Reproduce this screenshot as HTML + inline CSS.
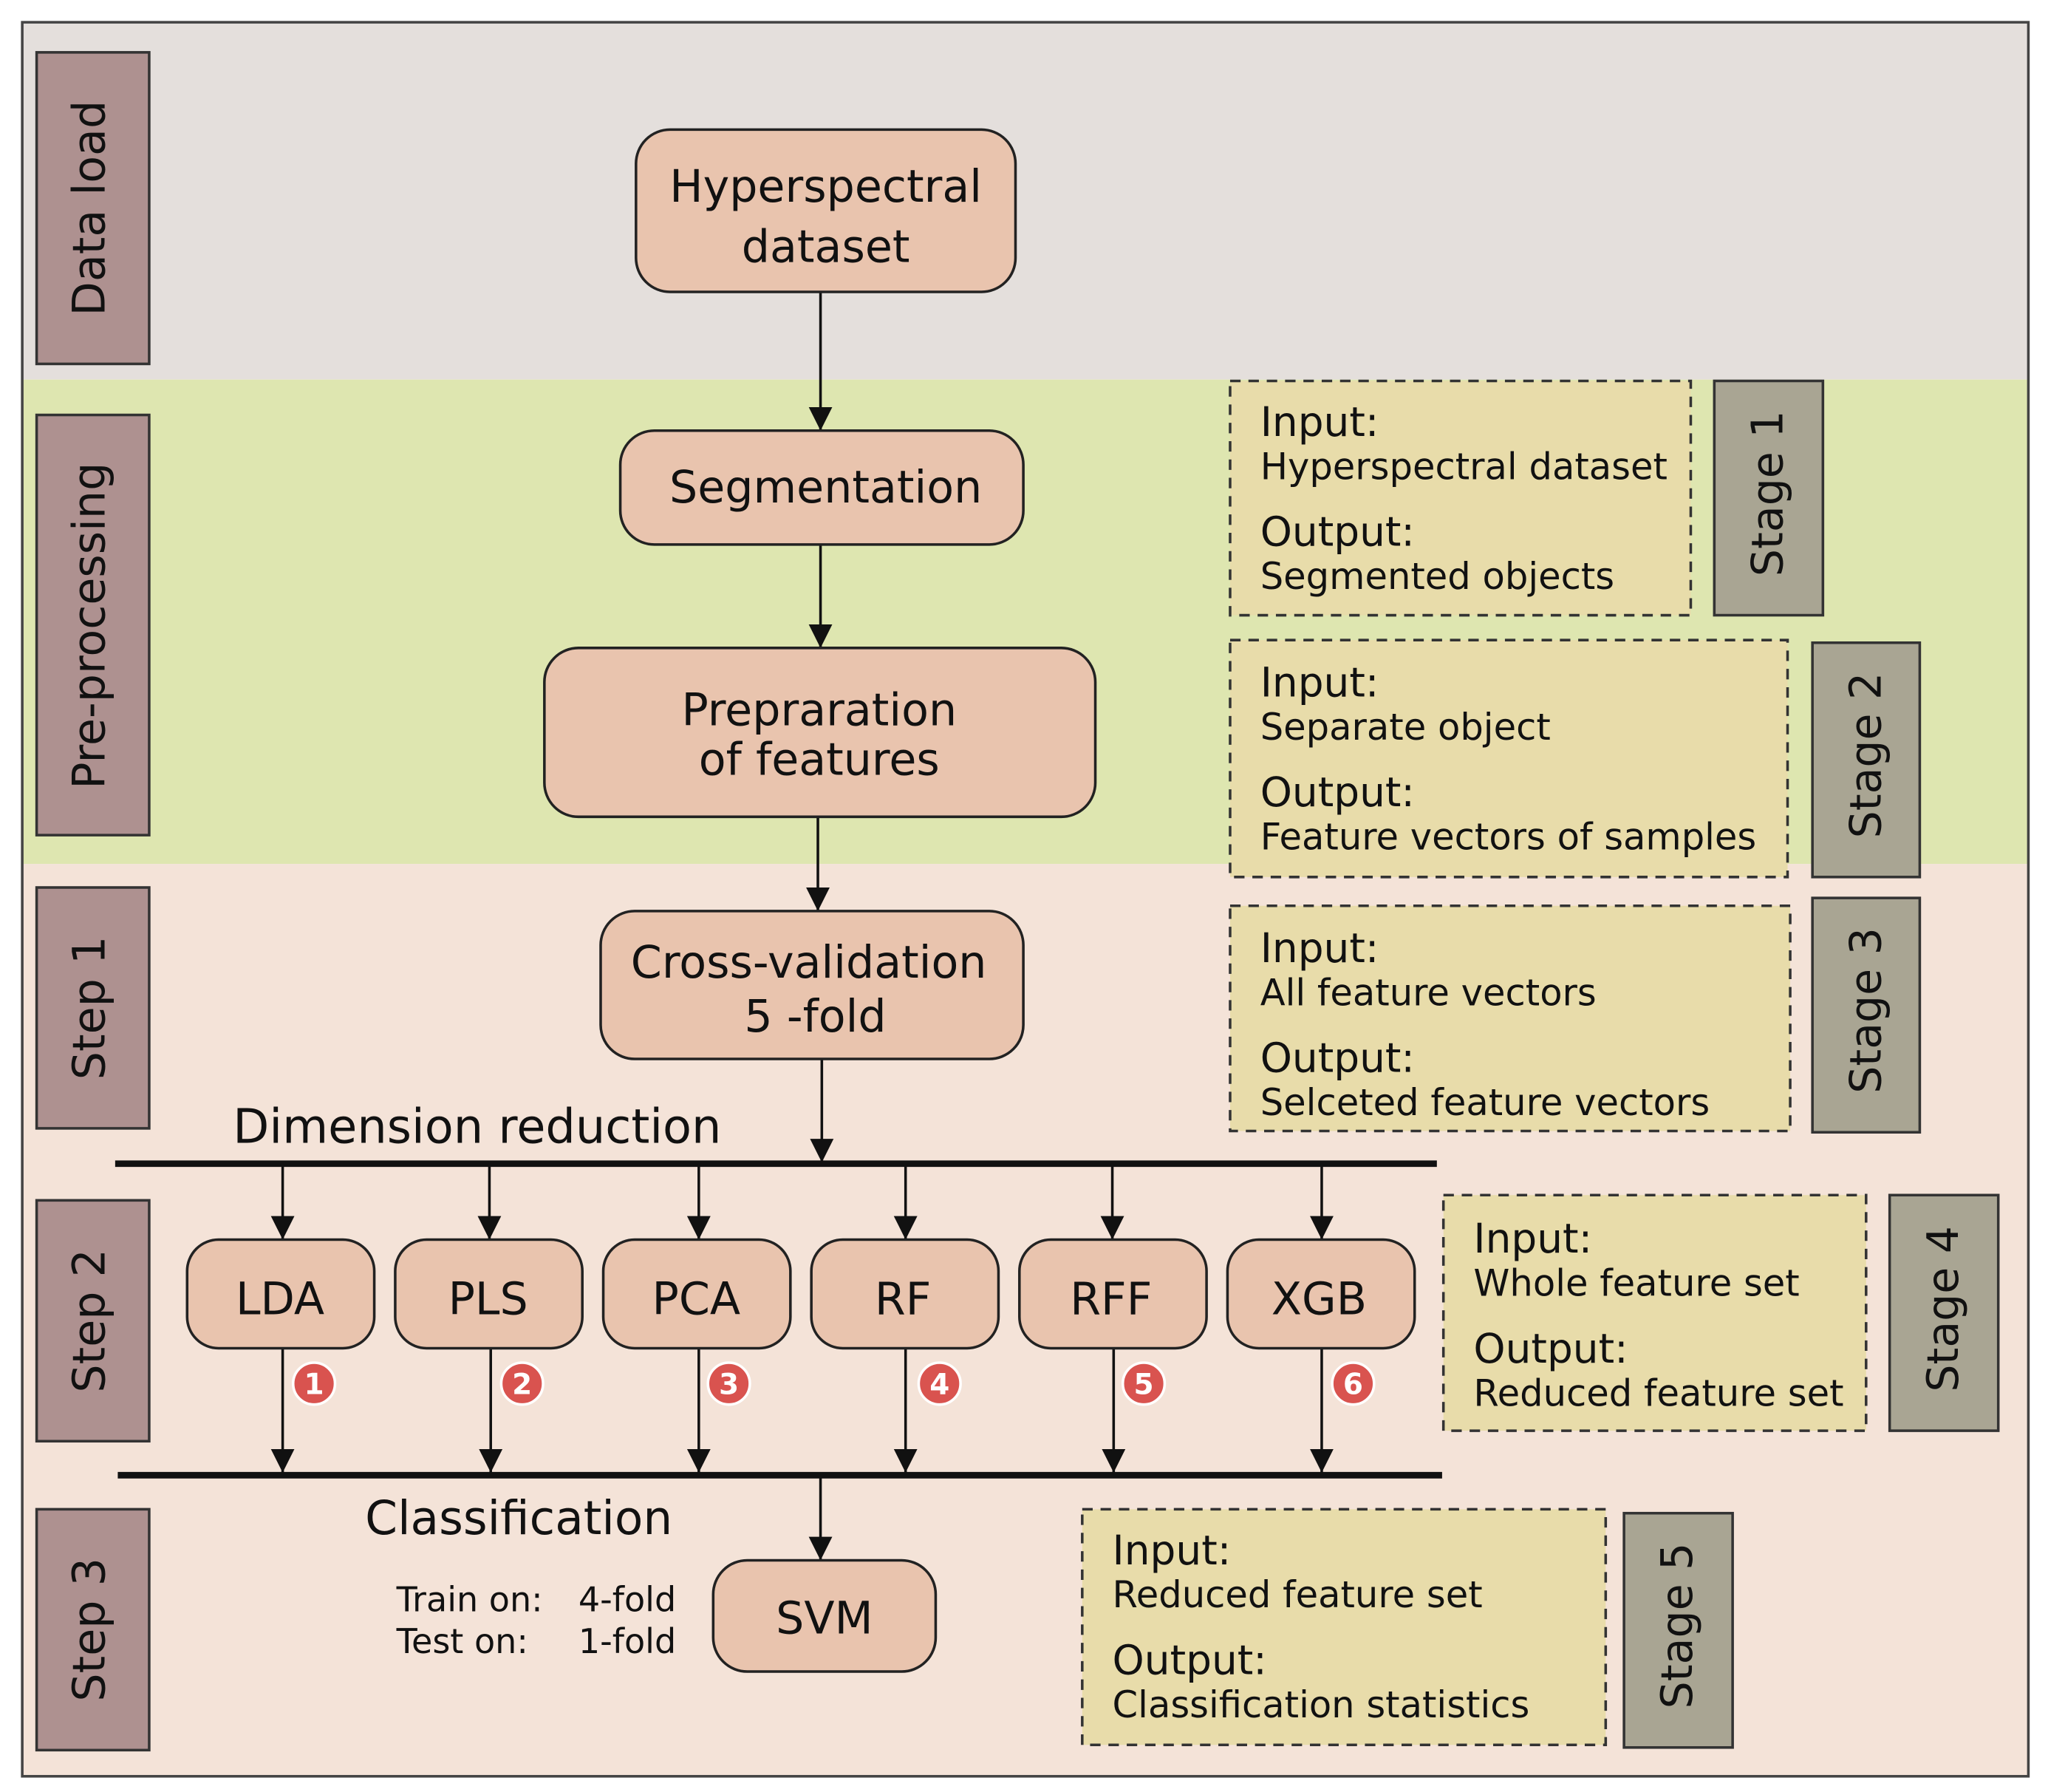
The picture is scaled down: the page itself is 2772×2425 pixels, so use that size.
<!DOCTYPE html>
<html><head><meta charset="utf-8"><style>html,body{margin:0;padding:0;background:#fff}svg{display:block}text{font-family:"DejaVu Sans","Liberation Sans",sans-serif;fill:#111}</style></head>
<body>
<svg width="2772" height="2425" viewBox="0 0 1565 1369" preserveAspectRatio="none" xmlns="http://www.w3.org/2000/svg">
<defs>
<marker id="b" viewBox="0 0 10 10" markerWidth="18" markerHeight="20" refX="10" refY="5" orient="auto" markerUnits="userSpaceOnUse"><path d="M0,0 L10,5 L0,10 Z" fill="#111"/></marker></defs>
<rect x="0" y="0" width="1565" height="1369" fill="#fff"/>
<rect x="17" y="17" width="1533" height="273" fill="#e4dfdc"/>
<rect x="17" y="290" width="1533" height="370" fill="#dee6b0"/>
<rect x="17" y="660" width="1533" height="697" fill="#f4e3d8"/>
<rect x="17" y="17" width="1533" height="1340" fill="none" stroke="#444" stroke-width="2"/>
<g fill="#ae9190" stroke="#333" stroke-width="2">
<rect x="28" y="40" width="86" height="238"/><rect x="28" y="317" width="86" height="321"/><rect x="28" y="678" width="86" height="184"/><rect x="28" y="917" width="86" height="184"/><rect x="28" y="1153" width="86" height="184"/>
</g>
<g font-size="34" text-anchor="middle">
<text transform="translate(80,159) rotate(-90)">Data load</text>
<text transform="translate(80,478) rotate(-90)">Pre-processing</text>
<text transform="translate(80,770) rotate(-90)">Step 1</text>
<text transform="translate(80,1009) rotate(-90)">Step 2</text>
<text transform="translate(80,1245) rotate(-90)">Step 3</text>
</g>
<g fill="#a9a593" stroke="#333" stroke-width="2">
<rect x="1310" y="291" width="83" height="179"/><rect x="1385" y="491" width="82" height="179"/><rect x="1385" y="686" width="82" height="179"/><rect x="1444" y="913" width="83" height="180"/><rect x="1241" y="1156" width="83" height="179"/>
</g>
<g font-size="33" text-anchor="middle">
<text transform="translate(1362,377) rotate(-90)">Stage 1</text>
<text transform="translate(1437,577) rotate(-90)">Stage 2</text>
<text transform="translate(1437,772) rotate(-90)">Stage 3</text>
<text transform="translate(1496,1000) rotate(-90)">Stage 4</text>
<text transform="translate(1293,1242) rotate(-90)">Stage 5</text>
</g>
<g fill="#e8dcaa" stroke="#333" stroke-width="2" stroke-dasharray="8,6">
<rect x="940" y="291" width="352" height="179"/><rect x="940" y="489" width="426" height="181"/><rect x="940" y="692" width="428" height="172"/><rect x="1103" y="913" width="323" height="180"/><rect x="827" y="1153" width="400" height="180"/>
</g>
<g>
<text x="963" y="333" font-size="31">Input:</text><text x="963" y="366" font-size="28">Hyperspectral dataset</text><text x="963" y="417" font-size="31">Output:</text><text x="963" y="450" font-size="28">Segmented objects</text>
<text x="963" y="532" font-size="31">Input:</text><text x="963" y="565" font-size="28">Separate object</text><text x="963" y="616" font-size="31">Output:</text><text x="963" y="649" font-size="28">Feature vectors of samples</text>
<text x="963" y="735" font-size="31">Input:</text><text x="963" y="768" font-size="28">All feature vectors</text><text x="963" y="819" font-size="31">Output:</text><text x="963" y="852" font-size="28">Selceted feature vectors</text>
<text x="1126" y="957" font-size="31">Input:</text><text x="1126" y="990" font-size="28">Whole feature set</text><text x="1126" y="1041" font-size="31">Output:</text><text x="1126" y="1074" font-size="28">Reduced feature set</text>
<text x="850" y="1195" font-size="31">Input:</text><text x="850" y="1228" font-size="28">Reduced feature set</text><text x="850" y="1279" font-size="31">Output:</text><text x="850" y="1312" font-size="28">Classification statistics</text>
</g>
<g stroke="#111" stroke-width="2" marker-end="url(#b)">
<line x1="627" y1="223" x2="627" y2="329"/><line x1="627" y1="416" x2="627" y2="495"/><line x1="625" y1="624" x2="625" y2="696"/><line x1="628" y1="809" x2="628" y2="888"/>
<line x1="216" y1="889" x2="216" y2="947"/><line x1="374" y1="889" x2="374" y2="947"/><line x1="534" y1="889" x2="534" y2="947"/><line x1="692" y1="889" x2="692" y2="947"/><line x1="850" y1="889" x2="850" y2="947"/><line x1="1010" y1="889" x2="1010" y2="947"/>
<line x1="216" y1="1030" x2="216" y2="1125"/><line x1="375" y1="1030" x2="375" y2="1125"/><line x1="534" y1="1030" x2="534" y2="1125"/><line x1="692" y1="1030" x2="692" y2="1125"/><line x1="851" y1="1030" x2="851" y2="1125"/><line x1="1010" y1="1030" x2="1010" y2="1125"/>
<line x1="627" y1="1127" x2="627" y2="1192"/>
</g>
<line x1="88" y1="889" x2="1098" y2="889" stroke="#111" stroke-width="5"/>
<line x1="90" y1="1127" x2="1102" y2="1127" stroke="#111" stroke-width="5"/>
<g fill="#e9c4ae" stroke="#222" stroke-width="2">
<rect x="486" y="99" width="290" height="124" rx="26"/><rect x="474" y="329" width="308" height="87" rx="26"/><rect x="416" y="495" width="421" height="129" rx="26"/><rect x="459" y="696" width="323" height="113" rx="26"/>
<rect x="143" y="947" width="143" height="83" rx="24"/><rect x="302" y="947" width="143" height="83" rx="24"/><rect x="461" y="947" width="143" height="83" rx="24"/><rect x="620" y="947" width="143" height="83" rx="24"/><rect x="779" y="947" width="143" height="83" rx="24"/><rect x="938" y="947" width="143" height="83" rx="24"/>
<rect x="545" y="1192" width="170" height="85" rx="26"/>
</g>
<g font-size="34" text-anchor="middle">
<text x="631" y="154">Hyperspectral</text><text x="631" y="200">dataset</text>
<text x="631" y="384">Segmentation</text>
<text x="626" y="554">Prepraration</text><text x="626" y="592">of features</text>
<text x="618" y="747">Cross-validation</text><text x="623" y="788">5 -fold</text>
<text x="214" y="1004">LDA</text><text x="373" y="1004">PLS</text><text x="532" y="1004">PCA</text><text x="690" y="1004">RF</text><text x="849" y="1004">RFF</text><text x="1008" y="1004">XGB</text>
<text x="630" y="1248">SVM</text>
</g>
<text x="178" y="873" font-size="36">Dimension reduction</text>
<text x="279" y="1172" font-size="35.5">Classification</text>
<g font-size="26"><text x="303" y="1231">Train on:</text><text x="442" y="1231">4-fold</text><text x="303" y="1263">Test on:</text><text x="442" y="1263">1-fold</text></g>
<g fill="#d9534f" stroke="#fff" stroke-width="2">
<circle cx="240" cy="1057" r="16"/><circle cx="399" cy="1057" r="16"/><circle cx="557" cy="1057" r="16"/><circle cx="718" cy="1057" r="16"/><circle cx="874" cy="1057" r="16"/><circle cx="1034" cy="1057" r="16"/>
</g>
<g font-size="22" font-weight="bold" text-anchor="middle">
<text x="240" y="1065" style="fill:#fff">1</text><text x="399" y="1065" style="fill:#fff">2</text><text x="557" y="1065" style="fill:#fff">3</text><text x="718" y="1065" style="fill:#fff">4</text><text x="874" y="1065" style="fill:#fff">5</text><text x="1034" y="1065" style="fill:#fff">6</text>
</g>
</svg>
</body></html>
